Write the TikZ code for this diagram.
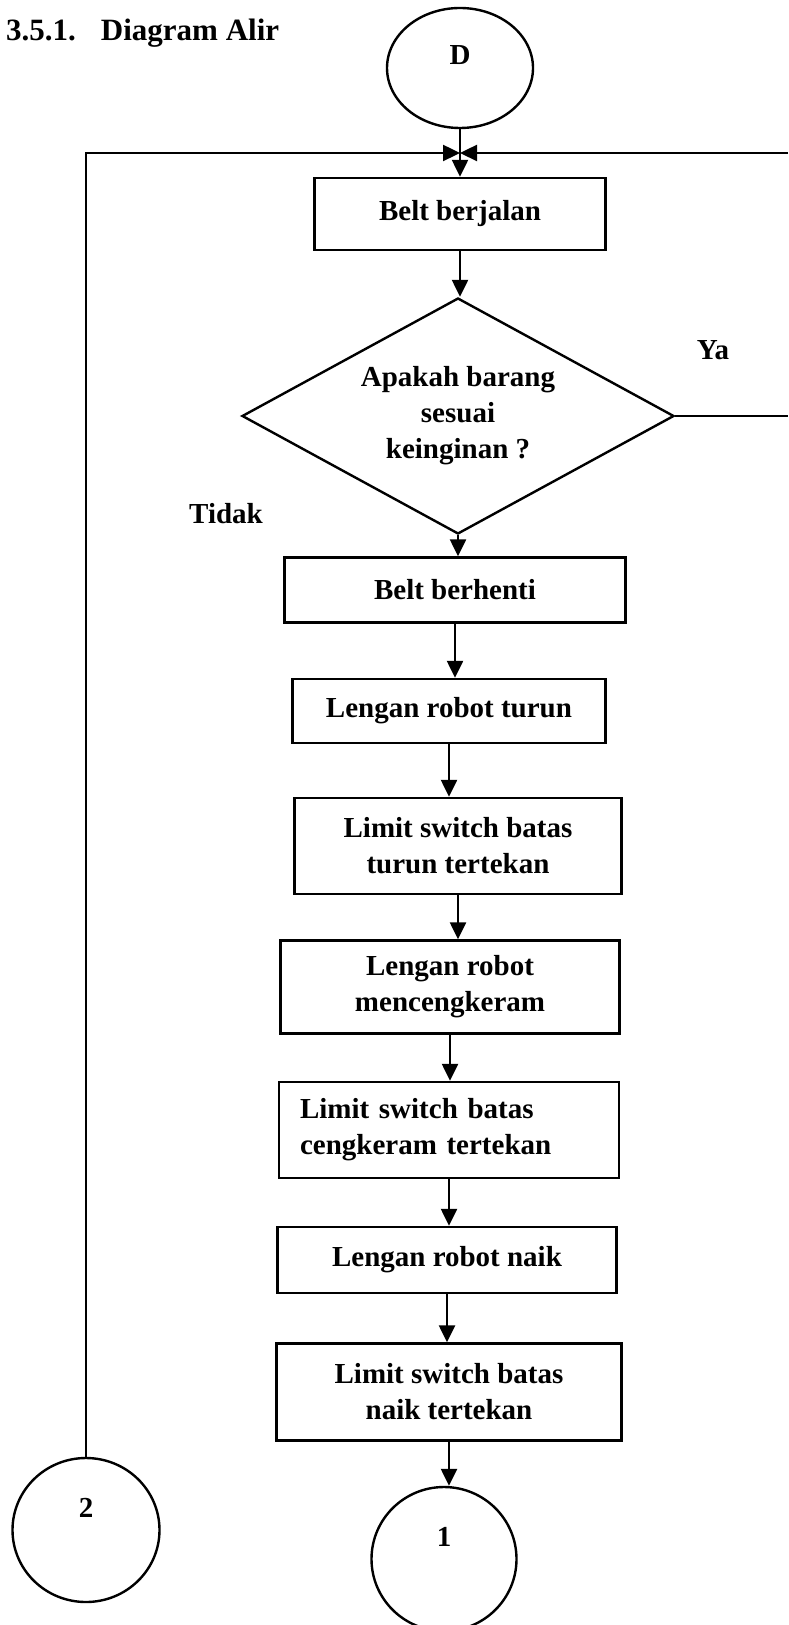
\documentclass[tikz,border=0pt]{standalone}
\usepackage{fontspec}
\setmainfont{Liberation Serif}
\usetikzlibrary{positioning,shapes.geometric,arrows.meta}

\begin{document}
\begin{tikzpicture}[x=0.5pt,y=-0.5pt,line width=1.2pt,
                    >={Triangle[length=8.5pt,width=8pt]},
                    every node/.style={font=\bfseries\fontsize{14.5}{18}\selectfont},
                    proc/.style={draw, rectangle, align=center, inner sep=2pt},
                    cond/.style={draw, diamond, aspect=1.83, align=center, inner sep=0pt,
                                 minimum width=216pt, minimum height=118pt},
                    conn/.style={draw, ellipse, inner sep=0pt}]
\useasboundingbox (0,0) rectangle (788,1625);
\node[anchor=base west, inner sep=0pt, font=\bfseries\fontsize{15.5}{18}\selectfont] (title) at (5,41) {3.5.1.\hspace{12.5pt}Diagram Alir};
\node[conn, minimum width=73pt, minimum height=60pt, label={[yshift=6.5pt]center:D}] (D) at (460,68) {};
\node[proc, minimum width=145.5pt, minimum height=36pt] (jalan) at (460,214) {Belt berjalan};
\node[cond] (cek) at (458,416) {Apakah barang\\ sesuai\\ keinginan ?};
\node[proc, minimum width=170.5pt, minimum height=32.5pt] (henti) at (455,590) {Belt berhenti};
\node[proc, minimum width=156.5pt, minimum height=32pt] (turun) at (449,711) {Lengan robot turun};
\node[proc, minimum width=163.5pt, minimum height=48pt] (lsturun) at (458,846) {Limit switch batas\\ turun tertekan};
\node[proc, minimum width=169.5pt, minimum height=46.5pt] (cengkeram) at (450,987) {Lengan robot\\ mencengkeram};
\node[proc, align=left, text width=149pt, inner xsep=10.5pt, minimum height=48pt] (lscengkeram) at (449,1130) {Limit switch batas\\ cengkeram tertekan};
\node[proc, minimum width=169.5pt, minimum height=33pt] (naik) at (447,1260) {Lengan robot naik};
\node[proc, minimum width=172.5pt, minimum height=48.5pt] (lsnaik) at (449,1392) {Limit switch batas\\ naik tertekan};
\node[conn, minimum width=72.5pt, minimum height=72pt, label={[yshift=11pt]center:1}] (c1) at (444,1559) {};
\node[conn, minimum width=73.5pt, minimum height=72pt, label={[yshift=11pt]center:2}] (c2) at (86,1530) {};
\node (ya) at (713,350) {Ya};
\node (tidak) at (226,514) {Tidak};
% loop back and the two lines leaving the page
\coordinate (jn) at (460,153);
\coordinate (kanan) at (788,153);
\coordinate (keluar) at (788,416);
\draw[->] (D) -- (jalan);
\draw[->] (c2) |- (jn);
\draw[->] (kanan) -- (jn);
\draw (cek) -- (keluar);
% main flow
\draw[->] (jalan.south) -- (jalan.south |- cek.north);
\draw[->] (cek.south) -- (cek.south |- henti.north);
\draw[->] (henti.south) -- (henti.south |- turun.north);
\draw[->] (turun.south) -- (turun.south |- lsturun.north);
\draw[->] (lsturun.south) -- (lsturun.south |- cengkeram.north);
\draw[->] (cengkeram.south) -- (cengkeram.south |- lscengkeram.north);
\draw[->] (lscengkeram.south) -- (lscengkeram.south |- naik.north);
\draw[->] (naik.south) -- (naik.south |- lsnaik.north);
\draw[->] (lsnaik.south) -- (lsnaik.south |- c1.north);
\end{tikzpicture}
\end{document}
